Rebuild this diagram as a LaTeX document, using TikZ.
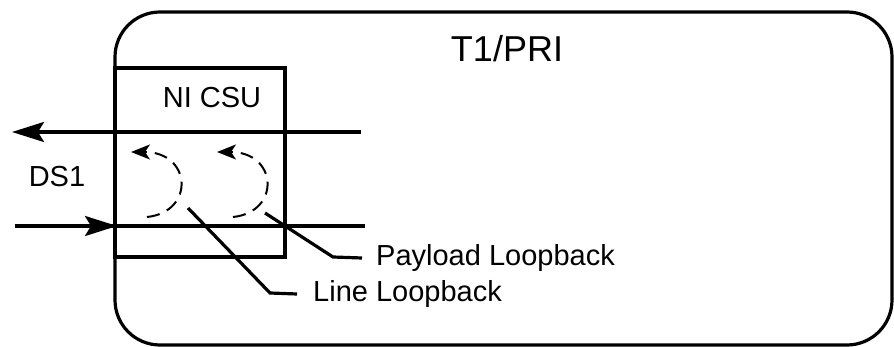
\documentclass[tikz,border=0pt]{standalone}
\usepackage{fontspec}
\setmainfont{Liberation Sans}
\usetikzlibrary{arrows.meta}
\newcommand{\bigtext}{\fontsize{36}{40}\selectfont}
\newcommand{\labtext}{\fontsize{29}{33}\selectfont}
\newcommand{\loopback}[1]{
	\draw[loopline] (#1+147,217) .. controls (#1+195,212) and (#1+192,152) .. (#1+131,152);
}

\begin{document}
\begin{tikzpicture}[x=1pt,y=-1pt,
		wire/.style={line width=3.2pt},
		bigtip/.style={-{Stealth[length=32pt,width=20pt,inset=6pt]}},
		loopline/.style={line width=2pt,dash pattern=on 13pt off 8pt,-{Stealth[length=19pt,width=15pt,inset=5pt]}},
		lab/.style={inner sep=0pt,font=\labtext}]
			\useasboundingbox (0,0) rectangle (894,347);
			% T1/PRI shelf and the NI CSU card
			\draw[wire,rounded corners=45pt] (115,12) rectangle (892,345);
			\draw[wire] (115,68) rectangle (285,257);
			\node[inner sep=0pt,font=\bigtext,anchor=base] (shelf) at (507,62) {T1/PRI};
			\node[lab,anchor=base] (csu) at (212,108) {NI CSU};
			\node[lab,anchor=base] (ds) at (57,187) {DS1};
			% DS1 pairs
			\coordinate (txin) at (361,132);
			\coordinate (txout) at (12,132);
			\coordinate (rxin) at (15,226);
			\coordinate (rxcard) at (117,226);
			\coordinate (rxend) at (365,226);
			\draw[wire,bigtip] (txin) -- (txout);
			\draw[wire] (rxin) -- (rxend);
			\draw[wire,bigtip] (rxin) -- (rxcard);
			% loopbacks
			\foreach \dx in {0,86} {
				\loopback{\dx};
			}
			\node[lab,anchor=west] (linelab) at (313,294) {Line Loopback};
			\node[lab,anchor=west] (paylab) at (376,258) {Payload Loopback};
			\coordinate (lineloop) at (188,208);
			\coordinate (payloop) at (265,213);
			\draw[wire] (lineloop) -- (270,293) -- ([xshift=-16pt]linelab.west);
			\draw[wire] (payloop) -- (333,257) -- ([xshift=-14pt]paylab.west);
		\end{tikzpicture}
\end{document}
